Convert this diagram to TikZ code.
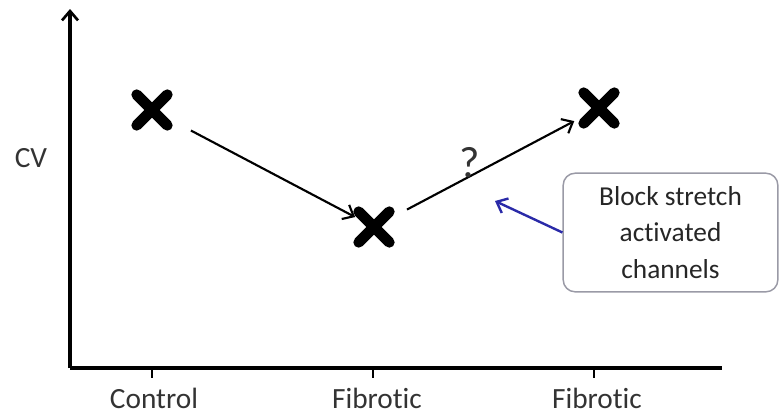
\documentclass[tikz,border=0pt]{standalone}
\usepackage{fontspec}
\setmainfont{Carlito}[Ligatures={NoCommon}]
\usetikzlibrary{arrows.meta,shapes.misc}
\definecolor{boxgray}{HTML}{9A9AA6}
\definecolor{calloutblue}{HTML}{2A2AA8}
\begin{document}
\begin{tikzpicture}[x=0.75pt,y=-0.75pt,
  axis/.style={line width=2.3pt,black},
  tick/.style={line width=2.2pt,black},
  axlabel/.style={font=\fontsize{22}{26}\selectfont,text=black!80,anchor=base,inner sep=0pt},
  xmark/.style={cross out,draw=black,line width=8pt,line cap=round,minimum size=15pt,inner sep=0pt},
  trend/.style={line width=1.6pt,-{Straight Barb[length=7pt,width=12pt,line width=1.6pt]}},
  callout/.style={draw=boxgray,line width=1.1pt,rounded corners=9pt,fill=white,
     minimum width=161pt,minimum height=89pt,align=center,
     font=\fontsize{20.5}{27.6}\selectfont,text=black!85},
  pointer/.style={calloutblue,line width=1.8pt,-{Straight Barb[length=7pt,width=12pt,line width=1.8pt]}}]
\useasboundingbox (0,0) rectangle (780,414);
% axes
\coordinate (o) at (70,368);
\coordinate (ytop) at (70,9);
\coordinate (xend) at (722,368);
\draw[axis,-{Straight Barb[length=7pt,width=12pt,line width=2pt]}] (o) -- (ytop);
\draw[axis] (o) -- (xend);
% ticks
\coordinate (t1) at (152,368);
\coordinate (t2) at (373,368);
\coordinate (t3) at (594,368);
\draw[tick] (t1) -- ++(0,10);
\draw[tick] (t2) -- ++(0,10);
\draw[tick] (t3) -- ++(0,10);
% labels
\node[axlabel] (lc) at (154,408) {Control};
\node[axlabel] (lf1) at (377,408) {Fibrotic};
\node[axlabel] (lf2) at (597,408) {Fibrotic};
\node[axlabel] (cv) at (31,167) {CV};
% data marks
\node[xmark] (c1) at (152,110) {};
\node[xmark] (c2) at (374,227) {};
\node[xmark] (c3) at (599,108) {};
% trend arrows
\draw[trend,shorten <=33pt,shorten >=16pt] (c1.center) -- (c2.center);
\draw[trend,shorten <=28pt,shorten >=21pt] (c2.center) -- (c3.center);
\node[axlabel,font=\fontsize{33}{38}\selectfont] (q) at (470,177) {?};
% callout
\node[callout] (box) at (670.5,232.5) {Block stretch\\activated\\channels};
\coordinate (tgt) at (495,201);
\draw[pointer] (box.west) -- (tgt);
\end{tikzpicture}
\end{document}
